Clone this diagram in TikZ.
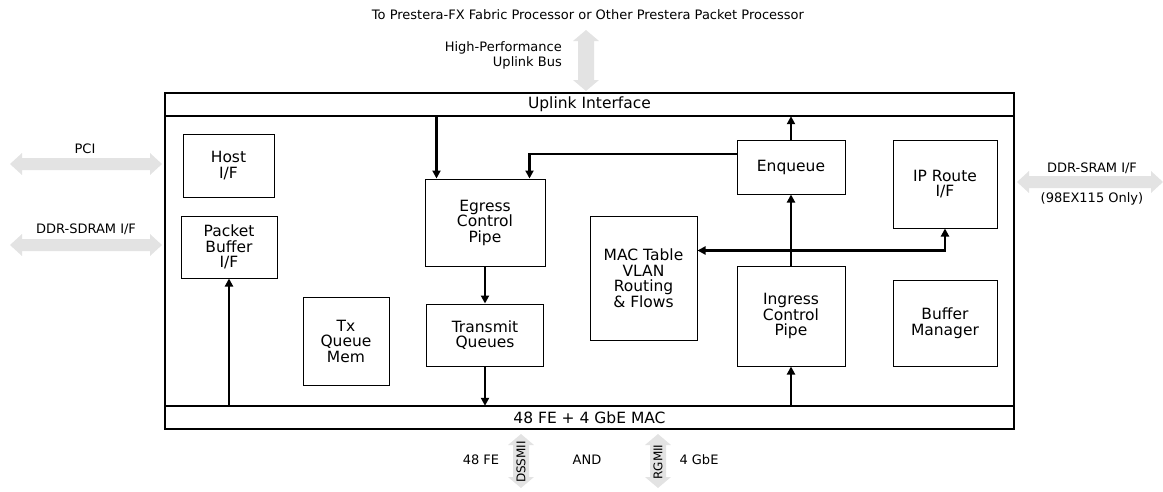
\documentclass[tikz,border=0pt]{standalone}
\usepackage{fontspec}
\setmainfont{DejaVu Sans}
\usetikzlibrary{arrows.meta}
\newcommand{\hdarrow}[3]{\fill[gar] (#1,#3) -- (#1+12,#3-11) -- (#1+12,#3-6) -- (#2-12,#3-6) -- (#2-12,#3-11) -- (#2,#3) -- (#2-12,#3+11) -- (#2-12,#3+6) -- (#1+12,#3+6) -- (#1+12,#3+11) -- cycle;}
\newcommand{\vdarrow}[3]{\fill[gar] (#3,#1) -- (#3-13,#1+11) -- (#3-8,#1+11) -- (#3-8,#2-11) -- (#3-13,#2-11) -- (#3,#2) -- (#3+13,#2-11) -- (#3+8,#2-11) -- (#3+8,#1+11) -- (#3+13,#1+11) -- cycle;}
\begin{document}
\begin{tikzpicture}[x=1pt,y=-1pt,
  blk/.style={draw, line width=1pt, inner sep=0pt, align=center, font=\fontsize{15.5}{15.5}\selectfont},
  arr/.style={line width=2.3pt, -{Triangle[length=8pt,width=8pt]}},
  lbl/.style={font=\fontsize{13}{15}\selectfont, inner sep=0pt, align=center},
  gar/.style={fill=black!11}]
\useasboundingbox (0,0) rectangle (1163,491);

% outer chip
\node[draw, line width=2.8pt, minimum width=849pt, minimum height=336pt, inner sep=0pt] (chip) at (589.5,261) {};
\node[inner sep=0pt, minimum width=849pt, minimum height=23pt, font=\fontsize{15.5}{15.5}\selectfont] (uplink) at (589.5,104.5) {Uplink Interface};
\node[inner sep=0pt, minimum width=849pt, minimum height=23pt, font=\fontsize{15.5}{15.5}\selectfont] (macbar) at (589.5,417.5) {48 FE + 4 GbE MAC};
\draw[line width=1.5pt] (uplink.south west) -- (uplink.south east);
\draw[line width=1.5pt] (macbar.north west) -- (macbar.north east);

% blocks
\node[blk, minimum width=91pt, minimum height=63pt] (host) at (228.5,165.5) {Host\\I/F};
\node[blk, minimum width=96pt, minimum height=62pt] (pbuf) at (229,247) {Packet\\Buffer\\I/F};
\node[blk, minimum width=86pt, minimum height=88pt] (txq) at (346,341) {Tx\\Queue\\Mem};
\node[blk, minimum width=120pt, minimum height=87pt] (egress) at (485,222.5) {Egress\\Control\\Pipe};
\node[blk, minimum width=117pt, minimum height=62pt] (tq) at (485,335) {Transmit\\Queues};
\node[blk, minimum width=107pt, minimum height=124pt] (mac) at (643.5,278) {MAC Table\\VLAN\\Routing\\\& Flows};
\node[blk, minimum width=108pt, minimum height=54pt] (enq) at (791,167) {Enqueue};
\node[blk, minimum width=104pt, minimum height=88pt] (ipr) at (945,184) {IP Route\\I/F};
\node[blk, minimum width=108pt, minimum height=100pt] (ing) at (791,316) {Ingress\\Control\\Pipe};
\node[blk, minimum width=104pt, minimum height=86pt] (bufm) at (945,323) {Buffer\\Manager};

% internal connectors
\coordinate (e1) at ([xshift=12pt]egress.north west);
\draw[arr] (e1 |- uplink.south) -- (e1);
\draw[arr] ([yshift=13pt]enq.west) -| ([xshift=-16pt]egress.north east);
\draw[arr] (enq.north) -- (enq.north |- uplink.south);
\draw[arr] (ing.north) -- (enq.south);
\coordinate (j) at ([yshift=15pt]ing.north);
\draw[arr] (j) -- (j -| mac.east);
\draw[arr] (j) -| (ipr.south);
\draw[arr] (egress.south) -- (tq.north);
\draw[arr] (tq.south) -- (tq.south |- macbar.north);
\draw[arr] (pbuf.south |- macbar.north) -- (pbuf.south);
\draw[arr] (ing.south |- macbar.north) -- (ing.south);

% external gray arrows
\hdarrow{10}{162}{164}
\hdarrow{10}{162}{245}
\hdarrow{1017}{1163}{182}
\vdarrow{30}{91}{586}
\vdarrow{434}{488}{521}
\vdarrow{434}{488}{658}

% external labels
\node[lbl] (toptxt) at (588,15) {To Prestera-FX Fabric Processor or Other Prestera Packet Processor};
\node[lbl, align=right, anchor=east] (hpub) at (562,55.5) {High-Performance\\Uplink Bus};
\node[lbl] (pci) at (85,149) {PCI};
\node[lbl] (sdram) at (86,229) {DDR-SDRAM I/F};
\node[lbl] (sram) at (1092,168) {DDR-SRAM I/F};
\node[lbl] (only) at (1092,199) {(98EX115 Only)};
\node[lbl] (fe) at (481,460) {48 FE};
\node[lbl] (and) at (587,460) {AND};
\node[lbl] (gbe) at (699,460) {4 GbE};
\node[lbl, rotate=90, font=\fontsize{12}{14}\selectfont] (dss) at (521,462) {DSSMII};
\node[lbl, rotate=90, font=\fontsize{12}{14}\selectfont] (rgm) at (658,462) {RGMII};
\end{tikzpicture}
\end{document}
